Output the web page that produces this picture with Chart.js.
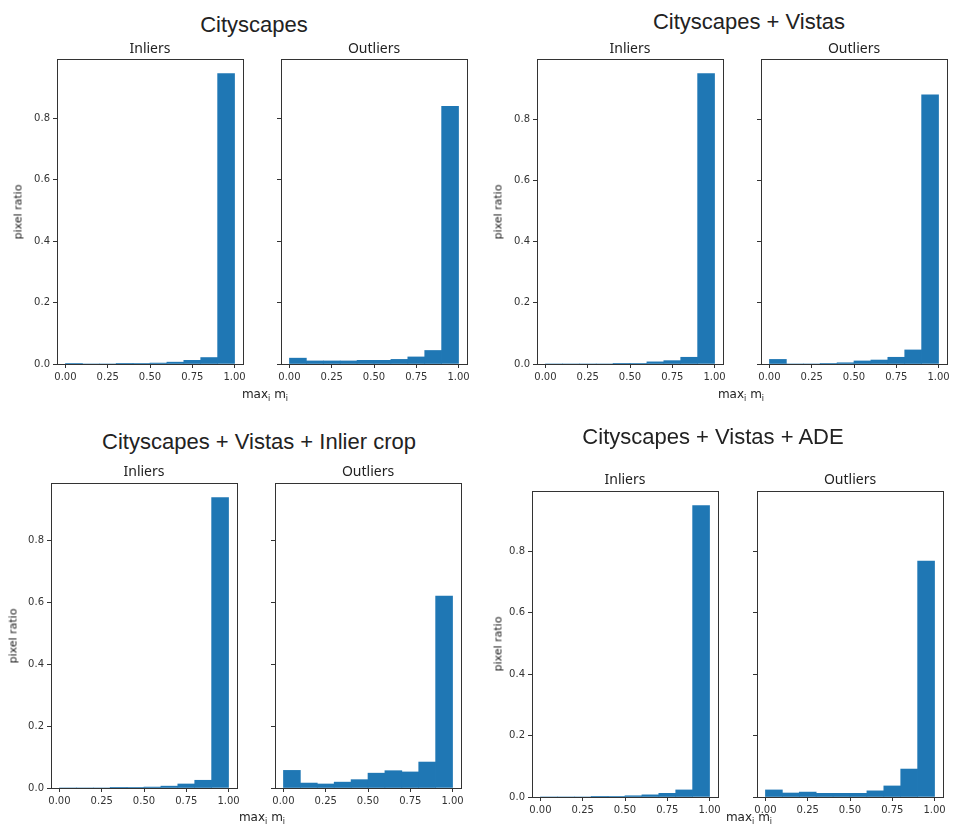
<!DOCTYPE html>
<html>
<head>
<meta charset="utf-8">
<script src="https://cdn.jsdelivr.net/npm/chart.js@4.4.1/dist/chart.umd.min.js"></script>
<style>
  body { margin: 0; background: #fff; width: 954px; height: 827px; position: relative; overflow: hidden; color: #222; }
  canvas { position: absolute; }
  .sup { position: absolute; font-family: "Liberation Sans", Arial, sans-serif; font-size: 22px; transform: translate(-50%, -50%); white-space: nowrap; }
  .sub { position: absolute; font-family: "Noto Sans", sans-serif; font-size: 14px; transform: translate(-50%, -50%); white-space: nowrap; }
  .xlab { position: absolute; font-family: "DejaVu Sans", sans-serif; font-size: 12px; transform: translate(-50%, -50%); white-space: nowrap; }
  .xlab sub { font-size: 8px; }
  .ylab { position: absolute; font-family: "DejaVu Sans", sans-serif; font-size: 11px; font-weight: normal; color: #222; transform: translate(-50%, -50%) rotate(-90deg); white-space: nowrap; }
</style>
</head>
<body>
<script>
// histogram bins (centres of 10 bins over [0,1])
const binCenters = [0.05, 0.15, 0.25, 0.35, 0.45, 0.55, 0.65, 0.75, 0.85, 0.95];
const xTicks = [0, 0.25, 0.5, 0.75, 1];
const yTicks = [0, 0.2, 0.4, 0.6, 0.8];

const cityInliers    = [0.002, 0, 0, 0.001, 0.002, 0.003, 0.006, 0.012, 0.021, 0.945];
const cityOutliers   = [0.019, 0.010, 0.010, 0.010, 0.012, 0.012, 0.015, 0.023, 0.044, 0.838];
const vistasInliers  = [0, 0, 0, 0, 0.001, 0.002, 0.007, 0.011, 0.022, 0.950];
const vistasOutliers = [0.015, 0, 0, 0.002, 0.004, 0.010, 0.013, 0.022, 0.046, 0.880];
const cropInliers    = [0, 0, 0, 0.001, 0.002, 0.003, 0.006, 0.013, 0.025, 0.940];
const cropOutliers   = [0.057, 0.016, 0.013, 0.019, 0.027, 0.048, 0.056, 0.052, 0.084, 0.621];
const adeInliers     = [0, 0, 0, 0.001, 0.002, 0.004, 0.007, 0.012, 0.023, 0.949];
const adeOutliers    = [0.023, 0.013, 0.016, 0.012, 0.012, 0.012, 0.020, 0.036, 0.091, 0.768];

const titles = ['Cityscapes', 'Cityscapes + Vistas', 'Cityscapes + Vistas + Inlier crop', 'Cityscapes + Vistas + ADE'];
const inliers = [cityInliers, vistasInliers, cropInliers, adeInliers];
const outliers = [cityOutliers, vistasOutliers, cropOutliers, adeOutliers];

// where each figure block sits on the page
const layout = [
  { L1: 57,  L2: 281, T: 59,  B: 364, tx: 254, ty: 25,  subY: 47,  xlx: 265, xly: 395, ylx: 18 },
  { L1: 537, L2: 761, T: 59,  B: 364, tx: 749, ty: 22,  subY: 47,  xlx: 741, xly: 395, ylx: 498 },
  { L1: 51,  L2: 275, T: 483, B: 788, tx: 259, ty: 442, subY: 470, xlx: 262, xly: 818, ylx: 13 },
  { L1: 532, L2: 757, T: 491, B: 797, tx: 713, ty: 437, subY: 478, xlx: 749, xly: 818, ylx: 498 }
];
const boxW = 186;
const padTop = 12, padRight = 12, yAxisW = 40, xAxisH = 24;

const frame = {
  id: 'frame',
  afterDraw(chart) {
    const a = chart.chartArea;
    const ctx = chart.ctx;
    ctx.save();
    ctx.strokeStyle = '#333';
    ctx.lineWidth = 1;
    ctx.strokeRect(Math.round(a.left) + 0.5, Math.round(a.top) + 0.5, Math.round(a.right - a.left), Math.round(a.bottom - a.top));
    ctx.restore();
  }
};

const tickFont = { family: 'DejaVu Sans', size: 10 };

function addText(cls, html, x, y) {
  const d = document.createElement('div');
  d.className = cls;
  d.innerHTML = html;
  d.style.left = x + 'px';
  d.style.top = y + 'px';
  document.body.appendChild(d);
}

function makeHist(values, left, top, height, ymax, showLabels) {
  const cv = document.createElement('canvas');
  cv.width = boxW + yAxisW + padRight;
  cv.height = height + padTop + xAxisH;
  cv.style.left = (left - yAxisW) + 'px';
  cv.style.top = (top - padTop) + 'px';
  document.body.appendChild(cv);

  new Chart(cv.getContext('2d'), {
    type: 'bar',
    data: {
      datasets: [{
        data: binCenters.map((x, i) => ({ x: x, y: values[i] })),
        backgroundColor: '#1f77b4',
        borderWidth: 0,
        barPercentage: 1,
        categoryPercentage: 1
      }]
    },
    options: {
      responsive: false,
      animation: false,
      devicePixelRatio: 1,
      layout: { padding: { top: padTop, right: padRight, left: 0, bottom: 0 } },
      plugins: { legend: { display: false }, tooltip: { enabled: false } },
      scales: {
        x: {
          type: 'linear',
          offset: false,
          min: -0.05,
          max: 1.05,
          afterBuildTicks: s => { s.ticks = xTicks.map(v => ({ value: v })); },
          afterFit: s => { s.height = xAxisH; },
          ticks: { callback: v => v.toFixed(2), font: tickFont, color: '#333', padding: 3, maxRotation: 0, autoSkip: false },
          grid: { offset: false, drawOnChartArea: false, tickLength: 4, color: '#333' },
          border: { color: '#333' }
        },
        y: {
          min: 0,
          max: ymax,
          afterBuildTicks: s => { s.ticks = yTicks.map(v => ({ value: v })); },
          afterFit: s => { s.width = yAxisW; },
          ticks: { callback: v => showLabels ? v.toFixed(1) : '', font: tickFont, color: '#333', padding: 3 },
          grid: { drawOnChartArea: false, tickLength: 4, color: '#333' },
          border: { color: '#333' }
        }
      }
    },
    plugins: [frame]
  });
}

layout.forEach((p, k) => {
  const h = p.B - p.T;
  // shared y axis, matplotlib-style 5% headroom
  const ymax = 1.05 * Math.max(...inliers[k], ...outliers[k]);
  makeHist(inliers[k], p.L1, p.T, h, ymax, true);
  makeHist(outliers[k], p.L2, p.T, h, ymax, false);
  addText('sup', titles[k], p.tx, p.ty);
  addText('sub', 'Inliers', p.L1 + boxW / 2, p.subY);
  addText('sub', 'Outliers', p.L2 + boxW / 2, p.subY);
  addText('xlab', 'max<sub>i</sub> m<sub>i</sub>', p.xlx, p.xly);
  addText('ylab', 'pixel ratio', p.ylx, (p.T + p.B) / 2);
});
</script>
</body>
</html>
